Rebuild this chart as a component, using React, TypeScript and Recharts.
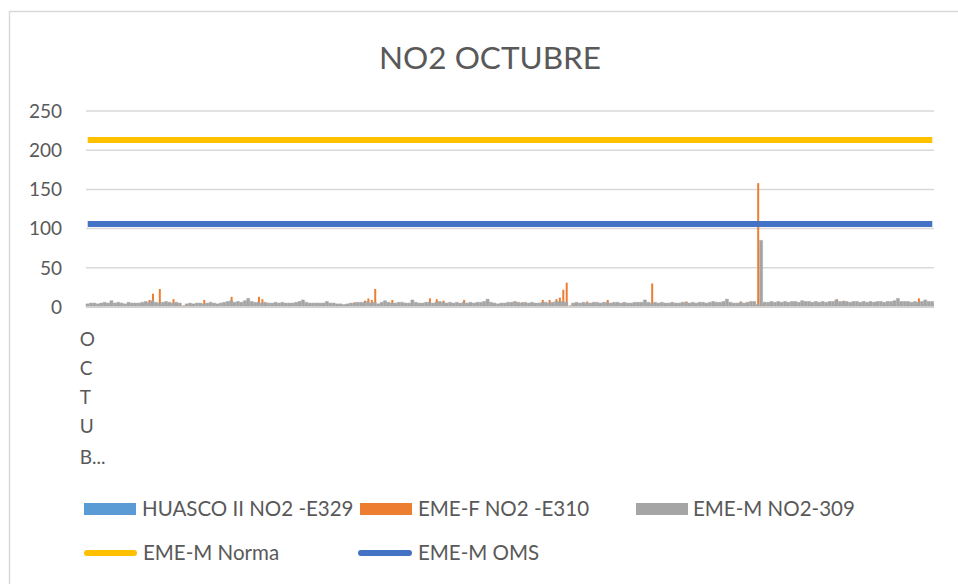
import React from 'react';
import { ComposedChart, Bar, Line, XAxis, YAxis, CartesianGrid, Legend } from 'recharts';

const FONT = "Lato, 'Open Sans', sans-serif";
const TEXT = '#595959';

const MONTH_LABEL = 'OCTUBRE';
const monthLetters = ['O', 'C', 'T', 'U', 'B...'];
const yTicks = [0, 50, 100, 150, 200, 250];

// EME-F NO2 -E310 (3-hourly readings across October)
const emeF = [
  3, 2, 3, 3, 2, 3, 3, 2, 3, 3,
  3, 2, 3, 3, 2, 3, 4, 3, 9, 17,
  4, 23, 3, 3, 4, 10, 3, 3, 2, 2,
  3, 3, 2, 3, 9, 3, 3, 2, 3, 3,
  3, 4, 13, 3, 3, 2, 3, 4, 3, 3,
  13, 10, 3, 2, 3, 3, 2, 3, 3, 3,
  3, 3, 2, 3, 3, 3, 2, 3, 3, 3,
  3, 2, 3, 3, 2, 3, 3, 3, 6, 3,
  4, 8, 11, 9, 23, 3, 3, 3, 3, 9,
  3, 3, 2, 3, 3, 3, 2, 3, 3, 3,
  11, 3, 10, 3, 8, 3, 2, 3, 3, 3,
  9, 3, 3, 2, 3, 3, 3, 2, 3, 3,
  3, 3, 2, 3, 3, 3, 3, 6, 3, 3,
  3, 2, 3, 9, 3, 9, 3, 10, 12, 22,
  31, 2, 3, 3, 2, 3, 7, 3, 3, 3,
  3, 2, 9, 3, 3, 2, 3, 3, 3, 3,
  3, 3, 2, 3, 3, 30, 3, 3, 2, 3,
  3, 3, 2, 3, 3, 7, 3, 3, 2, 3,
  3, 3, 2, 3, 3, 3, 3, 2, 3, 3,
  3, 7, 3, 3, 2, 3, 158, 3, 3, 3,
  3, 2, 6, 3, 3, 2, 3, 3, 3, 3,
  3, 3, 2, 3, 3, 3, 2, 3, 3, 10,
  3, 8, 3, 3, 2, 3, 3, 3, 3, 3,
  6, 3, 3, 2, 3, 3, 3, 3, 2, 3,
  3, 3, 3, 11, 3, 3, 2, 3,
];

// EME-M NO2-309
const emeM = [
  4, 5, 5, 4, 5, 6, 5, 8, 5, 6,
  5, 4, 6, 5, 5, 5, 6, 7, 6, 8,
  6, 5, 6, 7, 6, 5, 6, 5, 1, 4,
  5, 4, 5, 5, 4, 5, 6, 5, 4, 5,
  6, 7, 8, 6, 7, 6, 8, 11, 7, 6,
  6, 5, 6, 5, 5, 6, 5, 6, 5, 5,
  5, 6, 7, 9, 6, 5, 5, 5, 5, 5,
  7, 5, 5, 4, 4, 3, 4, 5, 5, 6,
  6, 6, 7, 5, 6, 4, 6, 8, 6, 5,
  5, 6, 6, 5, 5, 9, 6, 5, 5, 6,
  6, 5, 6, 7, 6, 5, 6, 5, 6, 5,
  6, 5, 6, 5, 6, 6, 7, 10, 6, 5,
  4, 5, 5, 6, 6, 7, 6, 5, 6, 5,
  6, 5, 5, 6, 6, 5, 6, 7, 7, 7,
  6, 1, 5, 6, 5, 6, 5, 5, 6, 6,
  5, 6, 6, 5, 6, 6, 5, 6, 5, 5,
  6, 6, 6, 9, 6, 5, 6, 5, 6, 5,
  5, 6, 5, 5, 6, 6, 5, 6, 5, 6,
  6, 5, 6, 7, 6, 6, 7, 10, 6, 5,
  5, 6, 5, 6, 7, 7, 3, 85, 6, 6,
  7, 6, 7, 6, 7, 6, 7, 7, 6, 8,
  7, 7, 6, 7, 6, 7, 6, 7, 7, 9,
  7, 7, 7, 6, 7, 7, 6, 7, 6, 7,
  6, 7, 7, 6, 7, 7, 8, 11, 7, 7,
  7, 6, 7, 6, 7, 9, 7, 7,
];

const normaValue = 213; // EME-M Norma
const omsValue = 106; // EME-M OMS

const series = {
  huasco: { name: 'HUASCO II NO2 -E329', color: '#5B9BD5' },
  emeF: { name: 'EME-F NO2 -E310', color: '#ED7D31' },
  emeM: { name: 'EME-M NO2-309', color: '#A5A5A5' },
  norma: { name: 'EME-M Norma', color: '#FFC000' },
  oms: { name: 'EME-M OMS', color: '#4472C4' },
};

const data = emeM.map((g, i) => ({
  idx: i,
  emeF: emeF[i],
  emeM: g,
  norma: normaValue,
  oms: omsValue,
}));

const MonthTick = (props: any) => {
  const { x, y, payload } = props;
  if (payload?.value !== 0) return <g />;
  const offsets = [31, 60, 89, 118, 149];
  return (
    <g>
      {monthLetters.map((ch, k) => (
        <text key={k} x={x - 8} y={y + offsets[k]} fill={TEXT} fontSize={19} fontFamily={FONT} textAnchor="start">
          {ch}
        </text>
      ))}
    </g>
  );
};

const LegendContent = () => {
  const top = 490;
  const row1 = 516 - top;
  const row2 = 560 - top;
  const txt = (x: number, y: number, s: string) => (
    <text x={x} y={y} fill={TEXT} fontSize={20.5} fontFamily={FONT}>{s}</text>
  );
  return (
    <svg width={958} height={94} style={{ display: 'block' }}>
      <rect x={84} y={503 - top} width={52} height={12} fill={series.huasco.color} />
      {txt(142, row1, series.huasco.name)}
      <rect x={360} y={503 - top} width={52} height={12} fill={series.emeF.color} />
      {txt(418, row1, series.emeF.name)}
      <rect x={636} y={503 - top} width={52} height={12} fill={series.emeM.color} />
      {txt(693, row1, series.emeM.name)}
      <line x1={87} x2={134} y1={553 - top} y2={553 - top} stroke={series.norma.color} strokeWidth={6} strokeLinecap="round" />
      {txt(143, row2, series.norma.name)}
      <line x1={361} x2={409} y1={553 - top} y2={553 - top} stroke={series.oms.color} strokeWidth={6} strokeLinecap="round" />
      {txt(418, row2, series.oms.name)}
    </svg>
  );
};

export default function App() {
  return (
    <div style={{ position: 'absolute', left: 0, top: 0, width: 958, height: 584, background: '#fff', overflow: 'hidden' }}>
      <svg width={958} height={584} style={{ position: 'absolute', left: 0, top: 0 }}>
        <line x1={9} x2={958} y1={11.5} y2={11.5} stroke="#D9D9D9" strokeWidth={1.5} />
        <line x1={9.5} x2={9.5} y1={11} y2={584} stroke="#D9D9D9" strokeWidth={1.5} />
        <text x={490} y={69} textAnchor="middle" fill={TEXT} fontSize={31.5} fontFamily={FONT}>NO2 OCTUBRE</text>
      </svg>
      <div style={{ position: 'absolute', left: 0, top: 0 }}>
        <ComposedChart
          width={958}
          height={584}
          data={data}
          margin={{ top: 111, right: 24, left: 0, bottom: 247 }}
          barCategoryGap={0}
          barGap={0}
        >
          <CartesianGrid vertical={false} stroke="#D9D9D9" strokeWidth={1.5} xAxisId="g" />
          <XAxis
            xAxisId="g"
            dataKey="idx"
            type="category"
            interval={0}
            tickLine={false}
            axisLine={{ stroke: '#D0D0D0', strokeWidth: 2 }}
            height={30}
            tick={<MonthTick />}
          />
          <XAxis xAxisId="o" dataKey="idx" type="category" hide />
          <XAxis xAxisId="h" dataKey="idx" type="category" hide />
          <YAxis
            width={86}
            domain={[0, 250]}
            ticks={yTicks}
            tickLine={false}
            axisLine={false}
            tickMargin={18}
            tick={{ fill: TEXT, fontSize: 19, fontFamily: FONT }}
          />
          <Legend
            layout="horizontal"
            align="center"
            verticalAlign="middle"
            wrapperStyle={{ top: 490, left: 0, width: 958, height: 94 }}
            content={<LegendContent />}
          />
          <Bar xAxisId="h" dataKey="huasco" name={series.huasco.name} fill={series.huasco.color} isAnimationActive={false} />
          <Bar xAxisId="o" dataKey="emeF" name={series.emeF.name} fill={series.emeF.color} barSize={2} isAnimationActive={false} />
          <Bar xAxisId="g" dataKey="emeM" name={series.emeM.name} fill={series.emeM.color} stroke={series.emeM.color} strokeWidth={0.5} isAnimationActive={false} />
          <Line xAxisId="g" dataKey="norma" name={series.norma.name} stroke={series.norma.color} strokeWidth={6} dot={false} activeDot={false} isAnimationActive={false} />
          <Line xAxisId="g" dataKey="oms" name={series.oms.name} stroke={series.oms.color} strokeWidth={6} dot={false} activeDot={false} isAnimationActive={false} />
        </ComposedChart>
      </div>
    </div>
  );
}
